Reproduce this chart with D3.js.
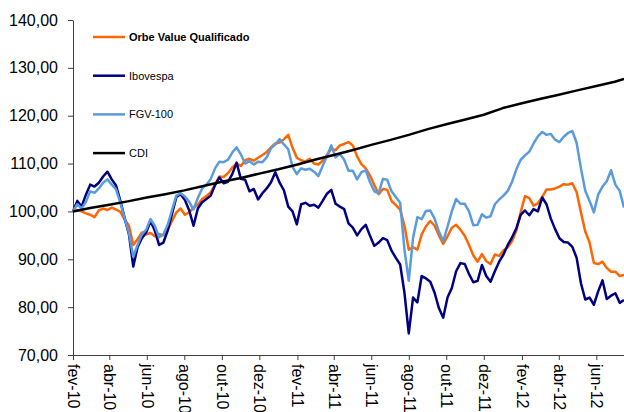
<!DOCTYPE html>
<html lang="pt-BR">
<head>
<meta charset="UTF-8" />
<style>
    body { margin: 0; background: #fff; }
    svg { display: block; font-family: "Liberation Sans", Arial, sans-serif; }
</style>
<script src="https://cdn.jsdelivr.net/npm/d3@7"></script>
</head>
<body>
<div id="grafico"></div>
<script>
// series semanais a partir de 01/02/2010 (base 100)
var orbe = [100.0,100.3,100.0,99.6,99.3,98.8,100.2,100.6,100.3,100.8,100.4,99.9,98.3,97.0,93.0,94.2,95.6,95.2,95.5,94.8,
    95.3,95.0,96.2,98.0,99.8,100.6,99.3,99.8,100.8,101.4,102.6,103.2,104.0,105.6,107.3,107.2,108.0,109.2,110.0,109.5,
    110.7,111.0,110.6,111.2,111.8,112.4,113.4,114.2,114.4,115.1,116.0,113.3,111.2,110.7,110.4,111.0,110.0,109.8,110.6,111.8,
    113.1,112.8,113.8,114.1,114.5,113.8,111.5,109.9,109.0,107.5,105.5,103.6,104.7,104.5,102.2,101.3,100.4,97.0,92.0,92.5,
    92.0,95.2,96.9,98.0,97.0,95.0,93.2,94.8,96.6,97.2,96.2,94.9,93.0,90.8,89.5,91.1,89.6,89.0,91.0,90.7,
    91.9,92.5,93.8,96.0,99.8,103.2,102.8,101.2,101.7,103.0,104.6,104.6,104.8,105.2,105.7,105.6,105.9,104.0,99.8,95.8,
    93.5,89.2,89.0,89.5,88.2,87.4,87.4,86.5,86.7];
var ibovespa = [100.0,102.2,101.0,103.5,105.6,105.2,106.0,107.3,108.3,106.7,105.4,102.2,98.6,95.2,88.5,92.5,94.4,95.6,98.0,96.0,
    93.0,93.5,96.0,99.5,103.0,103.6,102.4,100.2,97.0,100.6,101.9,102.6,103.3,105.5,107.1,105.9,106.2,107.8,110.2,106.8,
    106.6,104.2,104.7,102.5,103.8,104.8,106.1,108.2,106.0,104.4,101.0,100.0,97.3,101.5,101.8,101.2,101.4,100.8,102.2,103.7,
    104.5,101.6,101.0,100.5,97.5,96.6,95.0,96.3,97.2,94.9,92.8,93.5,94.4,94.0,91.8,90.3,88.9,83.0,74.5,82.0,
    81.0,86.5,86.0,85.3,83.0,79.8,77.8,82.0,84.0,87.5,89.2,89.0,86.9,85.2,85.5,88.8,86.5,85.3,87.5,89.5,
    91.0,93.0,94.6,96.5,99.3,100.2,99.2,100.5,100.0,102.9,101.5,98.5,96.3,94.4,93.6,93.5,92.6,90.3,85.0,81.6,
    82.0,80.5,83.3,85.6,81.7,82.4,82.9,80.9,81.5];
var fgv100 = [100.0,101.5,100.6,102.0,104.2,103.9,104.8,106.0,106.7,105.6,104.6,101.8,98.6,95.5,90.5,93.0,95.2,96.2,98.4,97.0,
    94.6,95.2,97.2,100.3,103.3,103.8,103.1,102.0,100.4,102.8,104.8,105.6,106.8,109.0,110.4,110.3,110.8,112.3,113.4,111.9,
    110.0,110.5,109.8,110.4,110.3,111.3,113.2,114.0,115.1,114.0,113.0,109.3,107.8,109.0,108.7,108.9,108.3,107.4,109.5,111.6,
    113.8,111.3,112.0,110.8,108.5,108.5,106.7,108.2,108.6,106.1,104.2,103.8,106.8,106.6,104.2,103.0,101.8,92.0,85.5,94.5,
    98.8,98.4,100.1,100.2,98.5,95.8,93.8,96.8,100.0,102.6,101.6,101.6,100.0,97.1,97.2,99.4,98.7,99.0,101.5,102.5,
    103.3,104.3,106.2,108.8,110.8,111.7,112.5,114.2,115.7,116.6,116.0,116.2,115.0,114.5,115.6,116.4,116.8,114.3,109.0,104.3,
    102.2,99.8,103.5,105.2,106.3,108.6,105.6,104.3,100.8];
// CDI mensal (fev-10 ... jul-12) + ultimo dia
var cdi = [100.0,100.7,101.4,102.1,102.9,103.6,104.4,105.3,106.2,107.0,107.9,108.8,109.8,110.8,111.8,112.8,113.9,114.9,116.0,117.2,
    118.2,119.2,120.2,121.6,122.6,123.5,124.4,125.3,126.2,127.1,127.7];

var nomes = ["Orbe Value Qualificado","Ibovespa","FGV-100","CDI"];
var cores = ["#ff6600","#000080","#5b9bdc","#000000"];
var yTicks = [70,80,90,100,110,120,130,140];
var xLabels = ["fev-10","abr-10","jun-10","ago-10","out-10","dez-10","fev-11","abr-11","jun-11","ago-11","out-11","dez-11","fev-12","abr-12","jun-12"];

var width = 624, height = 412;
var inicio = new Date(2010, 1, 1);
var fim = d3.timeDay.offset(inicio, 896);

var semanas = d3.range(orbe.length).map(function(i){ return d3.timeDay.offset(inicio, 7*i); });
var meses = d3.timeMonth.range(inicio, new Date(2012, 7, 1)).concat([fim]);

var x = d3.scaleTime().domain([inicio, fim]).range([73, 624]);
var y = d3.scaleLinear().domain([70, 140]).range([355, 20]);

var svg = d3.select("#grafico").append("svg")
    .attr("width", width)
    .attr("height", height);

// eixo y
var eixoY = svg.append("g")
    .attr("transform", "translate(73,0)")
    .call(d3.axisLeft(y).tickValues(yTicks).tickSize(5).tickSizeOuter(0)
        .tickFormat(function(d){ return d.toFixed(2).replace(".", ","); }));
eixoY.selectAll("text").attr("font-size", 16).attr("fill", "#000").attr("x", -15).attr("font-family", null);
eixoY.selectAll("line, path").attr("stroke", "#404040");

// eixo x
var ticksX = d3.timeMonth.range(inicio, fim, 2);
var eixoX = svg.append("g")
    .attr("transform", "translate(0,355)")
    .call(d3.axisBottom(x).tickValues(ticksX).tickSize(5).tickSizeOuter(0)
        .tickFormat(function(d, i){ return xLabels[i]; }));
eixoX.selectAll("line, path").attr("stroke", "#404040");
eixoX.selectAll("text")
    .attr("font-size", 16).attr("fill", "#000").attr("font-family", null)
    .attr("text-anchor", "start")
    .attr("transform", "rotate(90)")
    .attr("x", 9).attr("y", 0).attr("dy", "0.35em");

// linhas
var linha = d3.line()
    .x(function(d){ return x(d[0]); })
    .y(function(d){ return y(d[1]); });

var series = [orbe, ibovespa, fgv100].map(function(s){
    return s.map(function(v, i){ return [semanas[i], v]; });
});
series.push(cdi.map(function(v, i){ return [meses[i], v]; }));

series.forEach(function(s, k){
    svg.append("path")
        .attr("d", linha(s))
        .attr("fill", "none")
        .attr("stroke", cores[k])
        .attr("stroke-width", 2.5)
        .attr("stroke-linejoin", "round");
});

// legenda
var leg = svg.append("g");
nomes.forEach(function(n, k){
    var ly = 37 + k*38.7;
    leg.append("line")
        .attr("x1", 93).attr("x2", 125)
        .attr("y1", ly).attr("y2", ly)
        .attr("stroke", cores[k]).attr("stroke-width", 2.5);
    leg.append("text")
        .attr("x", 129).attr("y", ly + 4)
        .attr("font-size", 11)
        .attr("font-weight", k == 0 ? "bold" : "normal")
        .text(n);
});
</script>
</body>
</html>
